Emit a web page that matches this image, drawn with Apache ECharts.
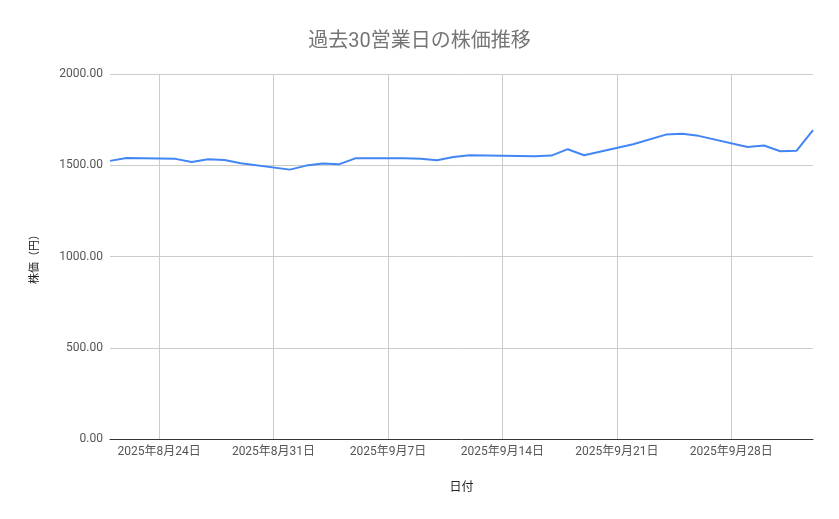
<!DOCTYPE html>
<html>
<head>
<meta charset="utf-8">
<script src="https://cdn.jsdelivr.net/npm/echarts@6/dist/echarts.min.js"></script>
<style>
html,body{margin:0;padding:0;background:#fff;}
#chart{width:839px;height:519px;}
</style>
</head>
<body>
<div id="chart"></div>
<script>
const titleText = '過去30営業日の株価推移';
const xAxisName = '日付';
const yAxisName = '株価（円）';

const dates = [
  '2025-08-21','2025-08-22','2025-08-25','2025-08-26','2025-08-27','2025-08-28','2025-08-29',
  '2025-09-01','2025-09-02','2025-09-03','2025-09-04','2025-09-05',
  '2025-09-08','2025-09-09','2025-09-10','2025-09-11','2025-09-12',
  '2025-09-16','2025-09-17','2025-09-18','2025-09-19',
  '2025-09-22','2025-09-24','2025-09-25','2025-09-26',
  '2025-09-29','2025-09-30','2025-10-01','2025-10-02','2025-10-03'
];
const prices = [
  1524, 1540, 1535, 1518, 1533, 1529, 1511,
  1476, 1498, 1510, 1505, 1538,
  1538, 1535, 1527, 1545, 1555,
  1549, 1553, 1588, 1555,
  1615, 1668, 1672, 1661,
  1600, 1608, 1577, 1580, 1692
];
const weekTicks = ['2025-08-24','2025-08-31','2025-09-07','2025-09-14','2025-09-21','2025-09-28'];
const xStart = '2025-08-21';
const xEnd = '2025-10-03';
const yTicks = [0, 500, 1000, 1500, 2000];

const DAY = 86400000;
function toUTC(s) {
  const p = s.split('-').map(Number);
  return Date.UTC(p[0], p[1] - 1, p[2]);
}
const base = toUTC(xStart);
function toDay(s) { return Math.round((toUTC(s) - base) / DAY); }
function dayLabel(v) {
  const d = new Date(base + Math.round(v) * DAY);
  return d.getUTCFullYear() + '年' + (d.getUTCMonth() + 1) + '月' + d.getUTCDate() + '日';
}

const seriesData = dates.map((d, i) => [toDay(d), prices[i]]);
const weekDays = weekTicks.map(toDay);

const FONT = 'Roboto, "Noto Sans CJK JP", sans-serif';

const chart = echarts.init(document.getElementById('chart'), null, {renderer: 'canvas'});
chart.setOption({
  backgroundColor: '#ffffff',
  animation: false,
  title: {
    text: titleText,
    left: 'center',
    top: 27,
    textStyle: {fontFamily: FONT, fontSize: 20, fontWeight: 'normal', color: '#757575'}
  },
  grid: {left: 110, right: 26, top: 74, bottom: 80, containLabel: false},
  xAxis: {
    type: 'value',
    min: toDay(xStart),
    max: toDay(xEnd),
    name: xAxisName,
    nameLocation: 'middle',
    nameGap: 43,
    nameTextStyle: {fontFamily: FONT, fontSize: 12, color: '#222'},
    axisLine: {show: true, onZero: false, lineStyle: {color: '#333', width: 1}},
    axisTick: {show: false, customValues: weekDays},
    axisLabel: {
      customValues: weekDays,
      fontFamily: FONT, fontSize: 12, color: '#555', margin: 7,
      formatter: dayLabel
    },
    splitLine: {show: true, lineStyle: {color: '#cccccc', width: 1}}
  },
  yAxis: {
    type: 'value',
    min: yTicks[0],
    max: yTicks[yTicks.length - 1],
    interval: 500,
    name: yAxisName,
    nameLocation: 'middle',
    nameGap: 69,
    nameRotate: 90,
    nameTextStyle: {fontFamily: FONT, fontSize: 11, color: '#222'},
    axisLine: {show: false},
    axisTick: {show: false},
    axisLabel: {
      fontFamily: FONT, fontSize: 12, color: '#555', margin: 7,
      formatter: function (v) { return v.toFixed(2); }
    },
    splitLine: {show: true, lineStyle: {color: '#cccccc', width: 1}}
  },
  series: [{
    type: 'line',
    data: seriesData,
    showSymbol: false,
    smooth: false,
    lineStyle: {color: '#4285f4', width: 2},
    itemStyle: {color: '#4285f4'}
  }]
});
</script>
</body>
</html>
